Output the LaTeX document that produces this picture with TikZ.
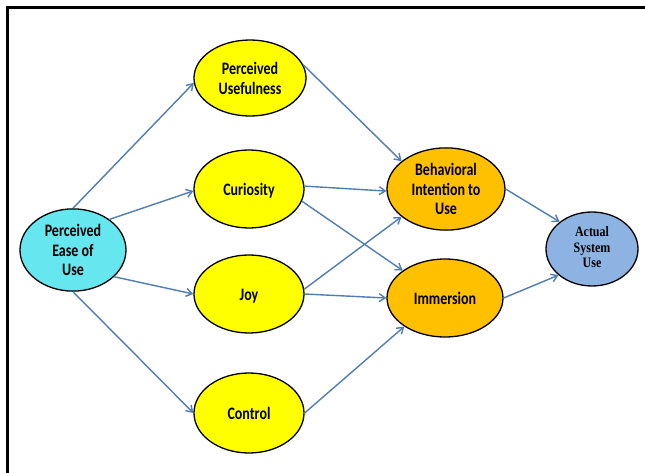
\documentclass[tikz,border=0pt]{standalone}
\usepackage{fontspec}
\usepackage{graphicx}
\setmainfont{Carlito}
\newfontfamily\serifasu{Liberation Serif}
\usetikzlibrary{shapes.geometric,arrows.meta}
\definecolor{arrowblue}{HTML}{4F7DB5}
\definecolor{yel}{HTML}{FFFF00}
\definecolor{orng}{HTML}{FFC000}
\definecolor{cyn}{HTML}{66E6EE}
\definecolor{lblue}{HTML}{8DB3E2}
\newcommand\tallabel[1]{\raisebox{-2.5pt}[\height][\depth]{\scalebox{1}[1.25]{\begin{tabular}{@{}c@{}}#1\end{tabular}}}}
\tikzset{
  construct/.style={ellipse, draw=black, line width=1.3pt, inner sep=0pt, align=center,
    font=\bfseries\fontsize{14}{15.5}\selectfont},
  link/.style={draw=arrowblue, line width=1.4pt, -{Straight Barb[length=6pt,width=8pt]}},
}
\begin{document}
\begin{tikzpicture}[x=1pt,y=-1pt]
\useasboundingbox (0,0) rectangle (645,473);
\fill[white] (0,0) rectangle (645,473);
\draw[line width=2.2pt] (7.5,473) -- (7.5,7.5) -- (645,7.5);

\node[construct, fill=cyn, minimum width=106pt, minimum height=80pt] (peu) at (73,250) {\tallabel{Perceived\\Ease of\\Use}};
\node[construct, fill=yel, minimum width=112pt, minimum height=76pt] (pu) at (250,78) {\tallabel{Perceived\\Usefulness}};
\node[construct, fill=yel, minimum width=110pt, minimum height=78pt] (cur) at (249,189) {\tallabel{Curiosity}};
\node[construct, fill=yel, minimum width=110pt, minimum height=78pt] (joy) at (249,294) {\tallabel{Joy}};
\node[construct, fill=yel, minimum width=110pt, minimum height=80pt] (ctl) at (249,413) {\tallabel{Control}};
\node[construct, fill=orng, minimum width=118pt, minimum height=78pt] (bi) at (446,189) {\tallabel{Behavioral\\Intention to\\Use}};
\node[construct, fill=orng, minimum width=116pt, minimum height=78pt] (imm) at (445,298) {\tallabel{Immersion}};
\node[construct, fill=lblue, minimum width=92pt, minimum height=74pt,
  font=\serifasu\bfseries\fontsize{12}{13}\selectfont] (asu) at (592,249) {\scalebox{1}[1.2]{\begin{tabular}{@{}c@{}}Actual\\System\\Use\end{tabular}}};

\draw[link] (peu.90) -- (pu.185);
\draw[link] (peu.40) -- (cur.182);
\draw[link] (peu.-33) -- (joy.180);
\draw[link] (peu.-90) -- (ctl.180);
\draw[link] (pu.14) -- (bi.148);
\draw[link] (cur.3) -- (bi.182);
\draw[link] (cur.-13) -- (imm.147);
\draw[link] (joy.5) -- (bi.212);
\draw[link] (joy.0) -- (imm.180);
\draw[link] (ctl.0) -- (imm.215);
\draw[link] (bi.0) -- (asu.140);
\draw[link] (imm.0) -- (asu.218);
\end{tikzpicture}
\end{document}
